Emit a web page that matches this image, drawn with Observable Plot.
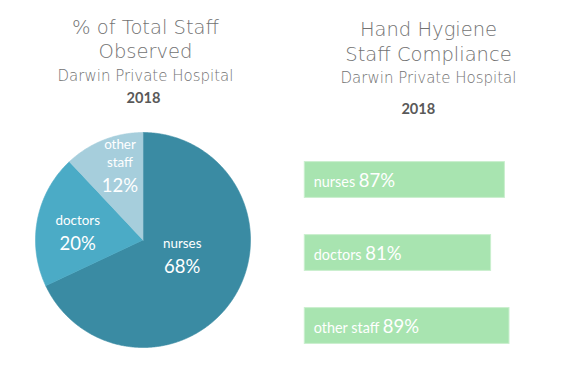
<!DOCTYPE html>
<html><head><meta charset="utf-8">
<script src="https://cdn.jsdelivr.net/npm/d3@7"></script>
<script src="https://cdn.jsdelivr.net/npm/@observablehq/plot@0.6"></script>
<style>
body{margin:0;background:#fff;}
#wrap{position:relative;width:579px;height:377px;overflow:hidden;background:#fff;}
#pie{position:absolute;left:0;top:0;}
#bars{position:absolute;left:290px;top:0;}
</style></head><body>
<div id="wrap"><div id="pie"></div><div id="bars"></div></div>
<script>
// ---- data ----
const staffGroups = ["nurses", "doctors", "other staff"];
const observedShare = [68, 20, 12];      // % of total staff observed
const compliance = [87, 81, 89];         // hand hygiene compliance %
const leftTitle = ["% of Total Staff", "Observed"];
const rightTitle = ["Hand Hygiene", "Staff Compliance"];
const hospital = "Darwin Private Hospital";
const year = "2018";

// ---- style ----
const pieColors = ["#3a8ba3", "#4babc6", "#a6cedc"];
const barColor = "#a8e4b0";
const titleFont = "DejaVu Sans";
const bodyFont = "Lato, 'Open Sans', sans-serif";
const titleColor = "#727272";
const yearColor = "#595959";

// ---- pie geometry from data ----
const total = d3.sum(observedShare);
let acc = 0;
const slices = staffGroups.map((g, i) => {
  const a0 = acc / total * 2 * Math.PI;
  acc += observedShare[i];
  const a1 = acc / total * 2 * Math.PI;
  return {g, v: observedShare[i], a0, a1};
});
const piePts = slices.flatMap(s => {
  const n = Math.max(2, Math.ceil((s.a1 - s.a0) / (Math.PI / 360)));
  const pts = [{g: s.g, x: 0, y: 0}];
  for (let k = 0; k <= n; k++) {
    const a = s.a0 + (s.a1 - s.a0) * k / n;
    pts.push({g: s.g, x: Math.sin(a), y: Math.cos(a)});
  }
  pts.push({g: s.g, x: 0, y: 0});
  return pts;
});
// label placement: angular shift from the slice mid-angle (deg) and radius fraction
const labelPlace = {"nurses": {shift: 7.8, r: 0.478}, "doctors": {shift: -19.3, r: 0.614}, "other staff": {shift: -4.1, r: 0.494}};
const pieLabels = slices.map(s => {
  const p = labelPlace[s.g];
  const a = (s.a0 + s.a1) / 2 + p.shift * Math.PI / 180;
  return {g: s.g, v: s.v, x: p.r * Math.sin(a), y: p.r * Math.cos(a)};
});

const pie = Plot.plot({
  width: 290, height: 377,
  marginLeft: 35, marginRight: 40, marginTop: 132, marginBottom: 30,
  x: {domain: [-1, 1], axis: null},
  y: {domain: [-1, 1], axis: null},
  color: {domain: staffGroups, range: pieColors},
  style: {background: "transparent"},
  marks: [
    Plot.line(piePts, {x: "x", y: "y", z: "g", fill: "g", stroke: "g", strokeWidth: 0.6, curve: "linear"}),
    Plot.text(pieLabels, {x: "x", y: "y", text: d => d.v + "%", fill: "white", fontSize: 18.5, lineAnchor: "bottom", fontFamily: bodyFont}),
    Plot.text(pieLabels, {x: "x", y: "y", text: d => d.g.replace(" ", "\n"), fill: "white", fontSize: 13.4, lineAnchor: "bottom", lineHeight: 1.32, dy: -25, fontFamily: bodyFont}),
    Plot.text([leftTitle.join("\n")], {frameAnchor: "top", text: d => d, lineAnchor: "bottom", lineHeight: 1.23, dy: -75, dx: 2.5, fontSize: 19.5, fill: titleColor, fontFamily: titleFont, fontWeight: 300}),
    Plot.text([hospital], {frameAnchor: "top", text: d => d, lineAnchor: "bottom", dy: -52, dx: 2.5, fontSize: 15, fill: titleColor, fontFamily: titleFont, fontWeight: 300}),
    Plot.text([year], {frameAnchor: "top", text: d => d, lineAnchor: "bottom", dy: -30, dx: 0.5, fontSize: 14.6, fontWeight: "bold", fill: yearColor, fontFamily: bodyFont})
  ]
});
document.getElementById("pie").appendChild(pie);

// ---- bars ----
const barData = staffGroups.map((g, i) => ({g, v: compliance[i]}));
const bars = Plot.plot({
  width: 289, height: 377,
  marginLeft: 14.3, marginRight: 44.7, marginTop: 142.1, marginBottom: 14.2,
  x: {domain: [0, 100], axis: null},
  y: {domain: staffGroups, axis: null, padding: 0},
  style: {background: "transparent"},
  marks: [
    Plot.barX(barData, {x: "v", y: "g", fill: barColor, stroke: "#c9efce", strokeWidth: 1, insetTop: 18.6, insetBottom: 18.6}),
    Plot.text(barData, {x: 0, y: "g", text: d => d.g + " " + d.v + "%", dx: 9, dy: 1, textAnchor: "start", fill: "white", fontSize: 18.5, fontFamily: bodyFont}),
    Plot.text([rightTitle.join("\n")], {frameAnchor: "top", text: d => d, lineAnchor: "bottom", lineHeight: 1.28, dy: -82.1, dx: 8.7, fontSize: 19.5, fill: titleColor, fontFamily: titleFont, fontWeight: 300}),
    Plot.text([hospital], {frameAnchor: "top", text: d => d, lineAnchor: "bottom", dy: -60.1, dx: 8.7, fontSize: 15, fill: titleColor, fontFamily: titleFont, fontWeight: 300}),
    Plot.text([year], {frameAnchor: "top", text: d => d, lineAnchor: "bottom", dy: -29.1, dx: -1.5, fontSize: 14.6, fontWeight: "bold", fill: yearColor, fontFamily: bodyFont})
  ]
});
// mixed-size bar labels: smaller category name, larger percentage
bars.querySelectorAll("text").forEach(t => {
  if (t.querySelector("tspan")) return;
  const m = /^(.*) (\d+%)$/.exec(t.textContent);
  if (!m) return;
  t.textContent = "";
  const ns = "http://www.w3.org/2000/svg";
  const a = document.createElementNS(ns, "tspan");
  a.setAttribute("font-size", 14.4);
  a.textContent = m[1] + "\u00a0";
  const b = document.createElementNS(ns, "tspan");
  b.textContent = m[2];
  t.appendChild(a); t.appendChild(b);
});
document.getElementById("bars").appendChild(bars);
</script>
</body></html>
